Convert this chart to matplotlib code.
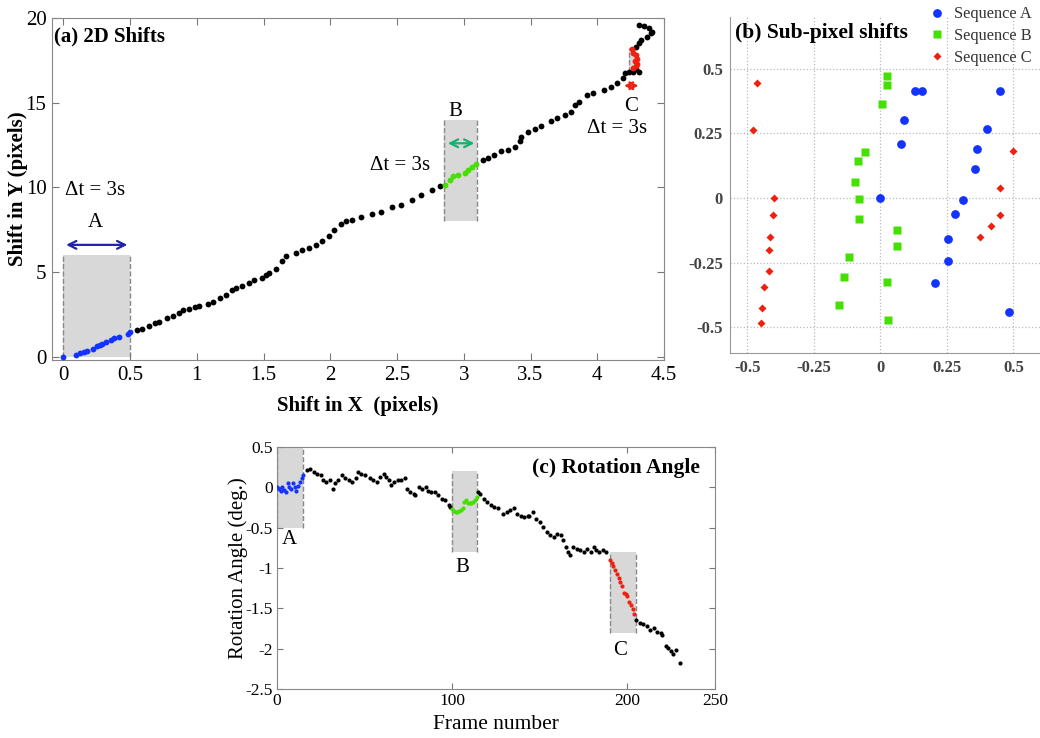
import matplotlib
matplotlib.use("Agg")
import matplotlib.pyplot as plt
from matplotlib.patches import Rectangle

plt.rcParams['font.family'] = ['Liberation Serif', 'DejaVu Serif']
plt.rcParams['axes.unicode_minus'] = False

# ---------------- Panel (a): 2D shifts ----------------
a_blue_x = [0.0, 0.098, 0.128, 0.153, 0.178, 0.223, 0.253, 0.273, 0.29, 0.323, 0.358, 0.383, 0.418, 0.483, 0.503]
a_blue_y = [0.0, 0.12, 0.22, 0.28, 0.31, 0.45, 0.61, 0.71, 0.75, 0.87, 1.0, 1.10, 1.16, 1.36, 1.44]

a_black1_x = [0.55, 0.59, 0.64, 0.69, 0.72, 0.78, 0.82, 0.87, 0.90, 0.94, 0.99, 1.02, 1.08, 1.12, 1.17,
              1.22, 1.26, 1.29, 1.34, 1.39, 1.43, 1.49, 1.52, 1.54, 1.59, 1.64, 1.67, 1.74, 1.79, 1.84,
              1.89, 1.94, 1.99, 2.03, 2.08, 2.12, 2.16, 2.23, 2.31, 2.38, 2.46, 2.53, 2.61, 2.68, 2.76, 2.82]
a_black1_y = [1.59, 1.65, 1.79, 1.99, 2.05, 2.28, 2.38, 2.58, 2.73, 2.81, 2.93, 3.01, 3.13, 3.24, 3.46,
              3.66, 3.95, 4.05, 4.19, 4.35, 4.54, 4.64, 4.84, 4.94, 5.17, 5.62, 5.92, 6.12, 6.27, 6.41,
              6.61, 6.85, 7.15, 7.5, 7.85, 8.0, 8.05, 8.22, 8.44, 8.57, 8.85, 8.97, 9.26, 9.56, 9.85, 10.09]

a_green_x = [2.857, 2.895, 2.92, 2.957, 3.007, 3.033, 3.058, 3.095]
a_green_y = [10.15, 10.41, 10.64, 10.74, 10.84, 11.04, 11.2, 11.39]

a_black2_x = [3.145, 3.18, 3.23, 3.28, 3.33, 3.38, 3.42, 3.43, 3.48, 3.53, 3.58, 3.65, 3.70, 3.76, 3.80,
              3.835, 3.86, 3.92, 3.97, 4.05, 4.10, 4.15, 4.19, 4.21, 4.235, 4.27, 4.31, 4.29,
              4.29, 4.31, 4.33, 4.37, 4.40, 4.41, 4.39, 4.35, 4.31]
a_black2_y = [11.63, 11.73, 11.93, 12.13, 12.22, 12.38, 12.72, 13.0, 13.24, 13.43, 13.6, 13.9, 14.08, 14.28, 14.47,
              14.87, 15.06, 15.46, 15.59, 15.75, 15.95, 16.19, 16.44, 16.73, 16.83, 16.83, 16.83, 16.97,
              18.31, 18.5, 18.7, 18.9, 19.1, 19.2, 19.39, 19.53, 19.6]

a_red_x = [4.26, 4.27, 4.29, 4.30, 4.28, 4.30, 4.29, 4.27]
a_red_y = [18.15, 17.95, 17.8, 17.6, 17.45, 17.3, 17.15, 17.05]

# ---------------- Panel (b): sub-pixel shifts ----------------
b_A_x = [0.0, 0.079, 0.090, 0.132, 0.158, 0.205, 0.256, 0.256, 0.282, 0.312, 0.355, 0.362, 0.401, 0.449, 0.483]
b_A_y = [0.0, 0.210, 0.303, 0.415, 0.415, -0.331, -0.158, -0.244, -0.063, -0.008, 0.112, 0.188, 0.268, 0.415, -0.440]
b_B_x = [0.024, 0.024, 0.005, -0.056, -0.085, -0.095, -0.082, -0.082, 0.063, 0.063, -0.118, -0.137, 0.024, -0.155, 0.028]
b_B_y = [0.473, 0.438, 0.365, 0.177, 0.142, 0.062, -0.003, -0.083, -0.123, -0.186, -0.229, -0.305, -0.326, -0.414, -0.471]
b_C_x = [-0.462, -0.479, -0.401, -0.405, -0.414, -0.420, -0.420, -0.438, -0.445, -0.447, 0.499, 0.449, 0.449, 0.417, 0.374]
b_C_y = [0.445, 0.263, 0.0, -0.067, -0.150, -0.200, -0.283, -0.344, -0.426, -0.482, 0.183, 0.040, -0.068, -0.109, -0.150]
b_ticks = [-0.5, -0.25, 0, 0.25, 0.5]
b_ticklabels = ['-0.5', '-0.25', '0', '0.25', '0.5']
legend_labels = ['Sequence A', 'Sequence B', 'Sequence C']

# ---------------- Panel (c): rotation angle ----------------
c_A_f = [0, 1, 2, 3, 4, 5, 6, 7, 8, 9, 10, 11, 12, 13, 14, 15]
c_A_a = [0.0, -0.02, -0.04, 0.0, -0.03, -0.06, 0.05, 0.0, -0.02, 0.05, 0.0, -0.04, 0.02, 0.07, 0.12, 0.15]
c_k1_f = [17, 19, 21, 23, 25, 26, 28, 30, 32, 33, 35, 37, 39, 41, 43, 45, 46, 48, 50, 53, 55, 57, 59, 61, 62,
          64, 65, 67, 69, 71, 73, 74, 76, 78, 79, 81, 83, 85, 86, 88, 90, 92, 94, 96, 98, 99]
c_k1_a = [0.21, 0.23, 0.19, 0.17, 0.15, 0.09, 0.07, 0.09, -0.02, 0.05, 0.095, 0.15, 0.11, 0.09, 0.07,
          0.11, 0.19, 0.17, 0.15, 0.11, 0.09, 0.07, 0.13, 0.17, 0.13, 0.09, 0.025, 0.07, 0.09, 0.095,
          0.11, -0.02, -0.06, -0.08, -0.1, 0.0, -0.02, 0.0, -0.04, -0.06, -0.06, -0.1, -0.14, -0.16, -0.22, -0.24]
c_B_f = [100, 101, 102, 103, 104, 105, 106, 107, 108, 109, 110, 111, 112, 113, 114]
c_B_a = [-0.27, -0.29, -0.30, -0.30, -0.29, -0.28, -0.26, -0.18, -0.16, -0.19, -0.2, -0.2, -0.18, -0.16, -0.12]
c_k2_f = [115, 116, 118, 120, 122, 124, 126, 129, 131, 133, 135, 137, 139, 141, 143, 144, 146, 148, 150, 152,
          154, 156, 158, 160, 162, 163, 165, 166, 167, 169, 171, 173, 175, 177, 179, 181, 182, 184, 186, 188]
c_k2_a = [-0.06, -0.08, -0.14, -0.18, -0.22, -0.24, -0.26, -0.33, -0.30, -0.28, -0.26, -0.33, -0.35, -0.37, -0.35,
          -0.35, -0.30, -0.39, -0.43, -0.49, -0.55, -0.59, -0.61, -0.58, -0.59, -0.65, -0.74, -0.80, -0.84, -0.74,
          -0.76, -0.78, -0.80, -0.76, -0.80, -0.74, -0.78, -0.80, -0.78, -0.80]
c_C_f = [190, 191, 192, 193, 194, 195, 196, 197, 198, 199, 200, 201, 202, 203, 204]
c_C_a = [-0.90, -0.94, -0.98, -1.03, -1.08, -1.12, -1.17, -1.22, -1.31, -1.32, -1.35, -1.42, -1.46, -1.51, -1.57]
c_k3_f = [205, 207, 209, 211, 213, 215, 217, 219, 220, 222, 223, 225, 226, 228, 230]
c_k3_a = [-1.64, -1.68, -1.70, -1.72, -1.77, -1.74, -1.79, -1.80, -1.83, -1.97, -1.99, -2.03, -2.07, -2.02, -2.18]

BLUE = '#1433ff'
GREEN = '#44e000'
RED = '#f02010'
GRAYFILL = '#d8d8d8'
EDGE = '#888888'

fig = plt.figure(figsize=(10.4, 7.38), dpi=100)
W, H = 1040.0, 738.0


def ax_at(l, t, r, b):
    return fig.add_axes([l / W, 1 - b / H, (r - l) / W, (b - t) / H])


def shade(ax, x0, x1, y0, y1):
    ax.add_patch(Rectangle((x0, y0), x1 - x0, y1 - y0, facecolor=GRAYFILL, edgecolor='none', zorder=1))
    ax.plot([x0, x0], [y0, y1], ls='--', color=EDGE, lw=1.0, zorder=1.5)
    ax.plot([x1, x1], [y0, y1], ls='--', color=EDGE, lw=1.0, zorder=1.5)


# ---------- (a) ----------
axa = ax_at(52, 18, 664, 360)
axa.set_xlim(-0.085, 4.5)
axa.set_ylim(-0.2, 20)
shade(axa, 0, 0.5, 0, 6)
shade(axa, 2.85, 3.1, 8, 14)
shade(axa, 4.24, 4.28, 16.8, 18.2)
ms = 4.2
axa.plot(a_black1_x, a_black1_y, 'o', color='black', ms=ms, mec='none', zorder=3)
axa.plot(a_black2_x, a_black2_y, 'o', color='black', ms=ms, mec='none', zorder=3)
axa.plot(a_blue_x, a_blue_y, 'o', color=BLUE, ms=ms, mec='none', zorder=3)
axa.plot(a_green_x, a_green_y, 'o', color=GREEN, ms=ms, mec='none', zorder=3)
axa.plot(a_red_x, a_red_y, 'o', color=RED, ms=ms, mec='none', zorder=3)
axa.annotate('', xy=(0.5, 6.6), xytext=(0.0, 6.6),
             arrowprops=dict(arrowstyle='<->', color='#2222a8', lw=1.6, mutation_scale=14))
axa.annotate('', xy=(3.1, 12.6), xytext=(2.86, 12.6),
             arrowprops=dict(arrowstyle='<->', color='#18b070', lw=1.6, mutation_scale=14))
axa.annotate('', xy=(4.33, 16.0), xytext=(4.18, 16.0),
             arrowprops=dict(arrowstyle='<->', color=RED, lw=1.6, mutation_scale=12))
tf = 15
axa.text(0.24, 7.9, 'A', ha='center', va='center', fontsize=tf)
axa.text(0.24, 9.8, 'Δt = 3s', ha='center', va='center', fontsize=tf)
axa.text(2.94, 14.5, 'B', ha='center', va='center', fontsize=tf)
axa.text(2.52, 11.3, 'Δt = 3s', ha='center', va='center', fontsize=tf)
axa.text(4.25, 14.8, 'C', ha='center', va='center', fontsize=tf)
axa.text(4.15, 13.5, 'Δt = 3s', ha='center', va='center', fontsize=tf)
axa.text(0.003, 0.947, '(a) 2D Shifts', transform=axa.transAxes, ha='left', va='center',
         fontsize=15, fontweight='bold')
axa.set_xticks([0, 0.5, 1, 1.5, 2, 2.5, 3, 3.5, 4, 4.5])
axa.set_xticklabels(['0', '0.5', '1', '1.5', '2', '2.5', '3', '3.5', '4', '4.5'])
axa.set_yticks([0, 5, 10, 15, 20])
axa.tick_params(direction='in', top=True, right=True, labelsize=15, length=5, color='#777777', pad=4)
axa.set_xlabel('Shift in X  (pixels)', fontsize=15, fontweight='bold', labelpad=8)
axa.set_ylabel('Shift in Y (pixels)', fontsize=15, fontweight='bold', labelpad=-2)
for s in axa.spines.values():
    s.set_color('#888888')

# ---------- (b) ----------
axb = ax_at(730, 17, 1040, 353)
axb.set_xlim(-0.565, 0.6)
axb.set_ylim(-0.6, 0.7)
axb.grid(True, ls=':', color='#bbbbbb', lw=0.9)
axb.set_axisbelow(True)
hA, = axb.plot(b_A_x, b_A_y, 'o', color=BLUE, ms=6.3, mec='none', label=legend_labels[0])
hB, = axb.plot(b_B_x, b_B_y, 's', color=GREEN, ms=5.5, mec='none', label=legend_labels[1])
hC, = axb.plot(b_C_x, b_C_y, 'D', color=RED, ms=4.2, mec='none', label=legend_labels[2])
axb.set_xticks(b_ticks)
axb.set_xticklabels(b_ticklabels)
axb.set_yticks(b_ticks)
axb.set_yticklabels(b_ticklabels)
axb.tick_params(length=0, labelsize=12, labelcolor='#444444', pad=5)
for lab in axb.get_xticklabels() + axb.get_yticklabels():
    lab.set_fontweight('bold')
axb.spines['top'].set_visible(False)
axb.spines['right'].set_visible(False)
axb.spines['left'].set_color('#999999')
axb.spines['bottom'].set_color('#999999')
fig.text(735 / W, 1 - 33 / H, '(b) Sub-pixel shifts', ha='left', va='center', fontsize=15.5, fontweight='bold')
leg = fig.legend(handles=[hA, hB, hC], loc='upper left', bbox_to_anchor=(926 / W, 1 - 3 / H),
                 frameon=False, fontsize=11.8, handlelength=1.0, handletextpad=0.5,
                 labelspacing=0.35, borderaxespad=0.0, borderpad=0.2)
for t in leg.get_texts():
    t.set_color('#333333')

# ---------- (c) ----------
axc = ax_at(277, 447, 715, 689)
axc.set_xlim(0, 250)
axc.set_ylim(-2.5, 0.5)
shade(axc, 0, 15, -0.5, 0.5)
shade(axc, 100, 114, -0.8, 0.2)
shade(axc, 190, 205, -1.8, -0.8)
mc = 3.0
axc.plot(c_k1_f, c_k1_a, 'o', color='black', ms=mc, mec='none', zorder=3)
axc.plot(c_k2_f, c_k2_a, 'o', color='black', ms=mc, mec='none', zorder=3)
axc.plot(c_k3_f, c_k3_a, 'o', color='black', ms=mc, mec='none', zorder=3)
axc.plot(c_A_f, c_A_a, 'o', color=BLUE, ms=mc, mec='none', zorder=3)
axc.plot(c_B_f, c_B_a, 'o', color=GREEN, ms=mc, mec='none', zorder=3)
axc.plot(c_C_f, c_C_a, 'o', color=RED, ms=mc, mec='none', zorder=3)
axc.text(7, -0.65, 'A', ha='center', va='center', fontsize=15)
axc.text(105.5, -1.0, 'B', ha='center', va='center', fontsize=15)
axc.text(196, -2.02, 'C', ha='center', va='center', fontsize=15)
axc.set_xticks([0, 100, 200, 250])
axc.set_yticks([0.5, 0, -0.5, -1, -1.5, -2, -2.5])
axc.set_yticklabels(['0.5', '0', '-0.5', '-1', '-1.5', '-2', '-2.5'])
axc.tick_params(direction='in', top=True, right=True, labelsize=12.5, length=4, color='#777777', pad=3)
axc.set_xlabel('Frame number', fontsize=15.5, labelpad=4)
axc.set_ylabel('Rotation Angle (deg.)', fontsize=15, labelpad=-2)
for s in axc.spines.values():
    s.set_color('#888888')
fig.text(700 / W, 1 - 468 / H, '(c) Rotation Angle', ha='right', va='center', fontsize=15.5, fontweight='bold')

fig.savefig('out.png', dpi=100)
